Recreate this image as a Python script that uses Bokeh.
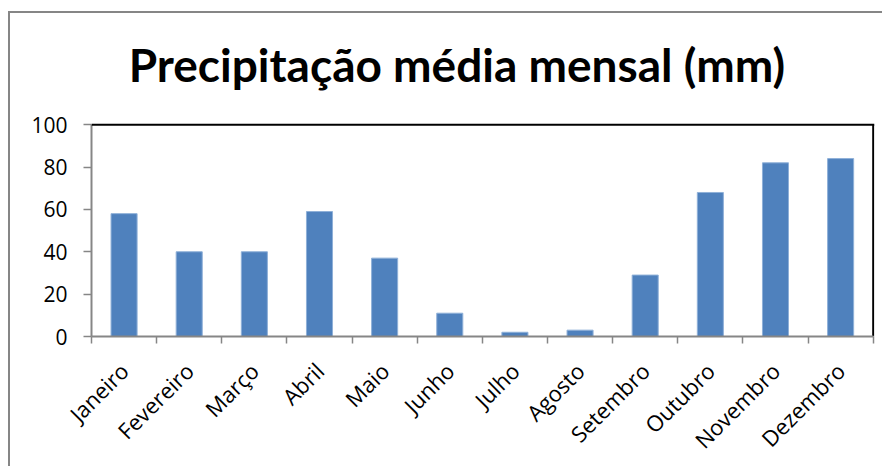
import math
from bokeh.plotting import figure
from bokeh.models import Range1d, FixedTicker, LinearAxis, Label, Span
from bokeh.embed import file_html
from bokeh.resources import INLINE

months = ["Janeiro", "Fevereiro", "Março", "Abril", "Maio", "Junho",
          "Julho", "Agosto", "Setembro", "Outubro", "Novembro", "Dezembro"]
precip = [58, 40, 40, 59, 37, 11, 2, 3, 29, 68, 82, 84]
y_ticks = [0, 20, 40, 60, 80, 100]
title_text = "Precipitação média mensal (mm)"

GRAY = "#868686"
FONT = "Open Sans"
N = len(months)
YMAX = y_ticks[-1]

# the frame is extended upward so that the title can sit inside the canvas
p = figure(width=874, height=455, x_range=Range1d(0, N + 0.02), y_range=Range1d(0, 144),
           output_backend="svg", toolbar_location=None,
           min_border_left=81, min_border_right=10, min_border_top=18, min_border_bottom=132,
           x_axis_type=None, y_axis_type=None)
p.outline_line_color = None

centers = [i + 0.5 for i in range(N)]
bounds = list(range(N + 1))

p.ygrid.ticker = FixedTicker(ticks=y_ticks[:-1])
p.ygrid.grid_line_color = GRAY
p.ygrid.grid_line_width = 1.5
p.ygrid.bounds = (0, N)
p.xgrid.visible = False

p.vbar(x=centers, top=precip, width=0.4, fill_color="#4F81BD", line_color="#8FB0D8", line_width=1)

# plot-area border: top and right in black
p.add_layout(Span(location=YMAX, dimension="width", line_color="black", line_width=2))
p.segment(x0=[N], y0=[0], x1=[N], y1=[YMAX], line_color="black", line_width=2)

# x axis line + tick marks at category boundaries
xtick_ax = LinearAxis(ticker=FixedTicker(ticks=bounds), bounds=(0, N))
xtick_ax.major_label_overrides = {b: "" for b in bounds}
xtick_ax.major_label_text_font_size = "0px"
xtick_ax.major_label_standoff = 0
xtick_ax.major_tick_line_color = GRAY
xtick_ax.major_tick_line_width = 1.5
xtick_ax.major_tick_in = 0
xtick_ax.major_tick_out = 7
xtick_ax.minor_tick_line_color = None
xtick_ax.axis_line_color = GRAY
xtick_ax.axis_line_width = 2
p.add_layout(xtick_ax, "below")

# month labels at category centres
xlab_ax = LinearAxis(ticker=FixedTicker(ticks=centers))
xlab_ax.major_label_overrides = {c: m for c, m in zip(centers, months)}
xlab_ax.major_tick_line_color = None
xlab_ax.minor_tick_line_color = None
xlab_ax.axis_line_color = None
xlab_ax.major_label_orientation = math.pi / 4
xlab_ax.major_label_text_font = FONT
xlab_ax.major_label_text_font_size = "22px"
xlab_ax.major_label_text_color = "black"
xlab_ax.major_label_standoff = 17
p.add_layout(xlab_ax, "below")

yax = LinearAxis(ticker=FixedTicker(ticks=y_ticks), bounds=(0, YMAX))
yax.major_tick_line_color = GRAY
yax.major_tick_line_width = 1.5
yax.major_tick_in = 0
yax.major_tick_out = 8
yax.minor_tick_line_color = None
yax.axis_line_color = GRAY
yax.axis_line_width = 2
yax.major_label_text_font = FONT
yax.major_label_text_font_size = "21px"
yax.major_label_text_color = "black"
yax.major_label_standoff = 16
p.add_layout(yax, "left")

# chart title
title = Label(x=0.57, y=128.5, text=title_text, text_font="Lato", text_font_style="bold",
              text_font_size="46px", text_color="black", text_align="left",
              text_baseline="alphabetic")
p.add_layout(title)

p.margin = (11, 0, 0, 8)
p.styles = {"border-left": "2px solid #868686", "border-top": "2px solid #868686"}

open("out.html", "w").write(file_html(p, INLINE))
